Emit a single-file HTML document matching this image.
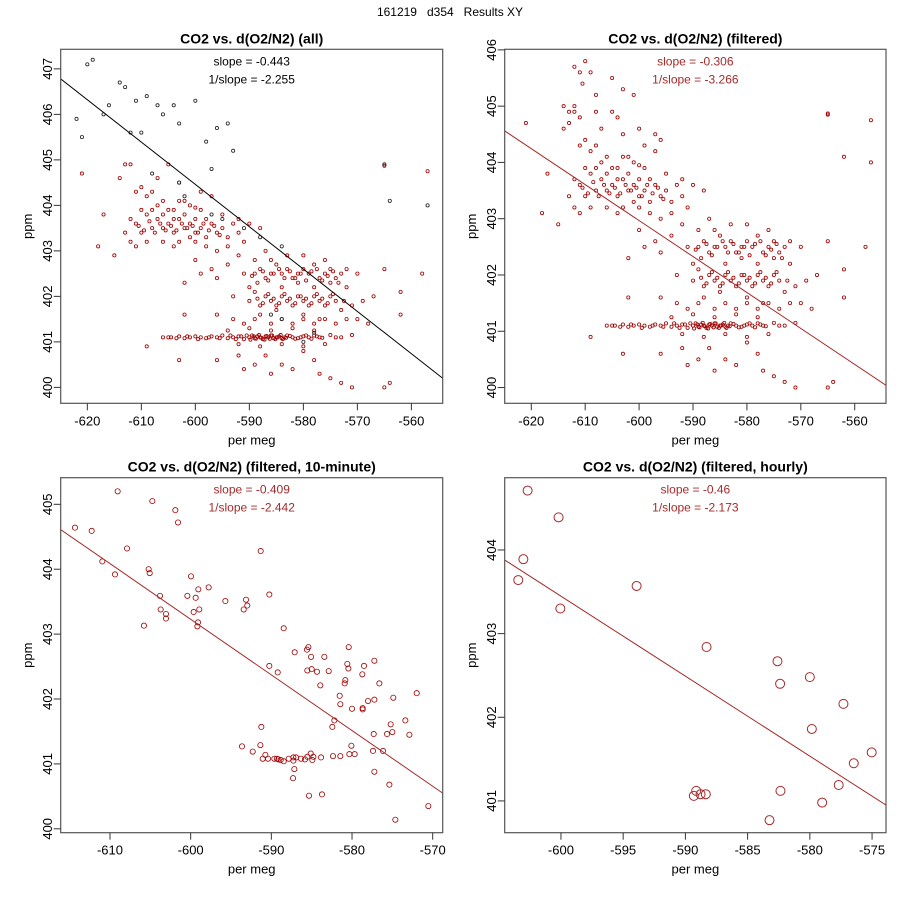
<!DOCTYPE html>
<html><head><meta charset="utf-8"><style>
html,body{margin:0;padding:0;background:#fff;}
svg{display:block;font-family:"Liberation Sans",sans-serif;}
</style></head><body>
<svg id="chart" width="900" height="900" viewBox="0 0 900 900" xmlns="http://www.w3.org/2000/svg">
<rect width="900" height="900" fill="#fff"/>
<text x="450" y="16" font-size="12" text-anchor="middle" fill="#000" style="white-space:pre" xml:space="preserve">161219   d354   Results XY</text>
</svg>
<script>
// ---- data ----
const redPts = [[-614,404.6],[-613,404.9],[-612,404.9],[-611,404.3],[-610,404.4],[-609,404.2],[-608,404.3],[-607,404.0],[-606,404.1],[-605,403.9],[-611,403.6],[-610,403.4],[-609,403.8],[-608,403.5],[-607,403.7],[-606,403.5],[-605,403.6],[-604,403.4],[-603,403.7],[-602,403.5],[-601,403.6],[-600,403.4],[-599,403.5],[-598,403.3],[-597,403.6],[-596,403.4],[-595,403.5],[-594,403.3],[-593,403.6],[-592,403.4],[-604,403.9],[-603,404.1],[-602,403.8],[-601,404.0],[-600,403.7],[-599,403.9],[-598,403.7],[-597,404.2],[-612,403.2],[-611,403.1],[-609,403.2],[-606,403.2],[-604,403.1],[-603,403.2],[-601,403.3],[-600,403.2],[-598,403.1],[-596,403.0],[-594,403.1],[-592,403.7],[-590,403.6],[-588,403.5],[-591,403.2],[-595,403.8],[-605,404.9],[-607,404.6],[-603,404.5],[-599,404.3],[-615,402.9],[-618,403.1],[-617,403.8],[-621,404.7],
[-600,402.8],[-597,402.6],[-594,402.7],[-592,402.9],[-589,402.8],[-587,403.0],[-591,402.5],[-596,402.4],[-599,402.5],[-602,402.3],[-590,402.2],[-593,402.0],
[-589,402.5],[-588,402.6],[-587,402.4],[-586,402.5],[-585,402.7],[-584,402.5],[-583,402.6],[-582,402.4],[-581,402.5],[-580,402.6],[-579,402.5],[-578,402.7],[-577,402.4],[-576,402.5],[-575,402.6],[-574,402.4],[-573,402.5],[-572,402.6],[-586,402.8],[-583,402.9],[-580,402.9],[-576,402.8],[-584,402.2],[-581,402.3],[-578,402.2],[-575,402.3],[-572,402.2],[-570,402.5],
[-590,401.9],[-589,402.1],[-588,401.8],[-587,402.0],[-586,401.9],[-585,401.8],[-584,402.0],[-583,401.9],[-582,401.8],[-581,402.0],[-580,401.9],[-579,401.8],[-578,402.0],[-577,401.9],[-576,401.8],[-575,402.0],[-574,401.9],[-573,401.7],[-571,401.8],[-569,401.9],[-567,402.0],[-562,402.1],[-588,401.6],[-585,401.7],[-580,401.6],[-577,401.5],
[-593,401.5],[-591,401.4],[-589,401.5],[-586,401.4],[-584,401.5],[-582,401.4],[-580,401.5],[-578,401.4],[-576,401.5],[-574,401.4],[-572,401.5],[-570,401.5],[-568,401.4],[-602,401.6],[-596,401.6],
[-606,401.1],[-605,401.1],[-603,401.12],[-602,401.08],[-601,401.1],[-600,401.12],[-599,401.1],[-598,401.08],[-597,401.12],[-596,401.1],[-595,401.14],[-594,401.08],[-593,401.1],[-592,401.12],[-591,401.06],[-590,401.1],[-589.5,401.14],[-589,401.08],[-588.5,401.12],[-588,401.1],[-587.5,401.06],[-587,401.12],[-586.5,401.1],[-586,401.14],[-585.5,401.08],[-585,401.1],[-584.5,401.12],[-584,401.08],[-583.5,401.1],[-583,401.14],[-582,401.1],[-581,401.08],[-580,401.12],[-579,401.1],[-578,401.14],[-577,401.1],[-575,401.15],[-573,401.1],[-571,401.15],[-594,401.25],[-590,401.3],[-586,401.25],[-582,401.3],[-578,401.25],[-592,400.95],[-588,400.9],[-584,400.95],[-580,400.9],[-576,400.95],
[-609,400.9],[-603,400.6],[-596,400.6],[-592,400.7],[-589,400.5],[-587,400.7],[-584,400.5],[-582,400.4],[-580,400.8],[-578,400.6],[-577,400.3],[-575,400.2],[-573,400.1],[-571,400.0],[-565,400.0],[-564,400.1],[-586,400.3],[-591,400.4],
[-565,402.6],[-558,402.5],[-562,401.6],[-565,404.87],[-557,404.75]];
const densePts = [[-610.5,403.55],[-609.5,403.45],[-608.5,403.65],[-607.5,403.4],[-606.5,403.6],[-605.5,403.45],[-604.5,403.55],[-603.5,403.45],[-602.5,403.6],[-601.5,403.5],[-600.5,403.55],[-599.5,403.4],[-598.5,403.6],[-597.5,403.45],[-596.5,403.55],[-595.5,403.35],[-608,403.9],[-606,403.8],[-604,403.7],[-602,404.1],[-600,403.95],[-610,403.9],[-612,403.7],[-613,403.4],
[-589.5,402.45],[-588.5,402.3],[-587.5,402.55],[-586.5,402.35],[-585.5,402.5],[-584.5,402.6],[-583.5,402.4],[-582.5,402.55],[-581.5,402.4],[-580.5,402.5],[-579.5,402.35],[-578.5,402.55],[-577.5,402.6],[-576.5,402.35],[-575.5,402.45],[-574.5,402.55],[-573.5,402.3],
[-588.5,401.95],[-587.5,401.85],[-586.5,402.05],[-585.5,401.95],[-584.5,401.85],[-583.5,402.05],[-582.5,401.95],[-581.5,401.85],[-580.5,402.0],[-579.5,401.95],[-578.5,401.85],[-577.5,402.05],[-576.5,401.95],[-575.5,401.85],[-574.5,402.05],[-572.5,401.9],
[-604.5,401.1],[-603.5,401.08],[-601.5,401.12],[-599.5,401.06],[-597.5,401.1],[-595.5,401.08],[-593.5,401.14],[-592.5,401.06],[-591.5,401.12],[-590.5,401.14],[-589.8,401.05],[-589.2,401.12],[-588.8,401.07],[-588.2,401.15],[-587.8,401.09],[-587.2,401.05],[-586.8,401.13],[-586.2,401.07],[-585.8,401.14],[-585.2,401.06],[-584.8,401.1],[-584.2,401.15],[-583.8,401.06],[-583.2,401.09],[-582.5,401.13],[-581.5,401.07],[-580.5,401.1],[-579.5,401.14],[-578.5,401.07],[-577.5,401.12],[-576.5,401.09],[-574,401.1]];
const blackPts = [[-622,405.9],[-621,405.5],[-620,407.1],[-619,407.2],[-616,406.2],[-617,406.0],[-614,406.7],[-613,406.6],[-611,406.3],[-609,406.4],[-607,406.2],[-606,406.0],[-604,406.2],[-603,405.8],[-610,405.6],[-612,405.6],[-608,404.7],[-603,404.5],[-597,404.8],[-596,405.7],[-594,405.8],[-593,405.2],[-602,404.2],[-597,403.8],[-595,403.7],[-591,403.5],[-588,403.3],[-584,403.1],[-600,406.3],[-598,405.4],[-565,404.9],[-564,404.1],[-557,404.0],[-586,401.6],[-584,401.5],[-580,401.0],[-578,401.2]];
const filtExtraPts = [[-612,405.7],[-611,405.6],[-610,405.8],[-609,405.6],[-610.5,405.4],[-608,405.2],[-605,405.5],[-603,405.3],[-601,405.2],[-613,404.7],[-608,404.9],[-604,404.8],[-600,404.6],[-596,404.4],[-597,404.5],[-612,405.0],[-614,405.0],[-611,404.8],[-565,404.85],[-562,404.1],[-557,404.0]];
const tenMinPts = [[-614.34,404.64],[-612.27,404.59],[-609.05,405.20],[-604.75,405.05],[-601.90,404.91],[-601.57,404.72],[-607.89,404.32],[-610.95,404.12],[-609.38,403.92],[-605.21,404.00],[-605.08,403.94],[-603.80,403.59],[-603.72,403.38],[-603.06,403.31],[-603.06,403.24],[-605.79,403.13],[-599.96,403.89],[-599.05,403.69],[-600.41,403.59],[-599.38,403.56],[-597.77,403.72],[-599.63,403.34],[-598.93,403.38],[-599.09,403.18],[-599.17,403.12],[-595.70,403.51],[-593.43,403.38],[-593.14,403.53],[-592.98,403.44],[-591.32,404.28],[-590.25,403.61],[-588.47,403.09],[-590.25,402.51],[-589.21,402.41],[-587.11,402.72],[-585.58,402.76],[-585.41,402.80],[-585.08,402.65],[-585.54,402.44],[-585.00,402.46],[-584.34,402.42],[-583.43,402.65],[-583.93,402.21],[-582.89,402.43],[-580.41,402.80],[-580.58,402.54],[-580.45,402.47],[-578.51,402.51],[-578.72,402.38],[-577.23,402.59],[-580.83,402.29],[-580.91,402.24],[-576.61,402.24],[-581.53,402.05],[-581.45,401.92],[-580.0,401.85],[-578.68,401.86],[-578.68,401.84],[-578.02,401.97],[-577.23,401.99],[-574.88,402.02],[-571.98,402.09],[-582.19,401.67],[-582.44,401.57],[-575.21,401.61],[-573.39,401.67],[-575.00,401.49],[-575.66,401.46],[-577.31,401.46],[-572.89,401.45],[-591.24,401.57],[-593.64,401.27],[-591.36,401.29],[-592.31,401.19],[-590.74,401.14],[-591.07,401.08],[-590.41,401.08],[-589.63,401.08],[-589.30,401.08],[-589.13,401.07],[-588.84,401.06],[-588.47,401.04],[-587.85,401.08],[-587.27,401.10],[-586.94,401.10],[-587.27,401.05],[-586.32,401.08],[-585.83,401.07],[-585.54,401.11],[-585.12,401.16],[-584.79,401.11],[-584.92,401.06],[-583.84,401.10],[-582.36,401.12],[-581.45,401.12],[-580.33,401.15],[-579.67,401.15],[-580.08,401.28],[-577.40,401.20],[-576.16,401.20],[-587.15,400.92],[-587.31,400.78],[-577.23,400.88],[-585.33,400.51],[-583.72,400.53],[-575.37,400.68],[-574.63,400.14],[-570.54,400.35]];
const hourlyPts = [[-602.68,404.71],[-600.19,404.39],[-603.02,403.89],[-603.43,403.64],[-600.05,403.30],[-593.92,403.57],[-588.30,402.84],[-582.60,402.67],[-582.39,402.40],[-580.0,402.48],[-577.30,402.16],[-579.84,401.86],[-575.03,401.58],[-576.47,401.45],[-577.68,401.19],[-582.36,401.12],[-579.01,400.98],[-583.24,400.77],[-589.13,401.12],[-589.32,401.06],[-588.78,401.08],[-588.36,401.08]];
// fit lines: [x1,y1,x2,y2] in data units
const fitAll = [-624.93,406.78,-554.2,400.2];
const fitFilt = [-624.93,404.56,-554.2,400.04];
const fitTen = [-616.11,404.61,-568.76,400.55];
const fitHour = [-604.52,403.88,-573.88,400.95];
const xTicksWide = [-620,-610,-600,-590,-580,-570,-560];
const xTicksTen = [-610,-600,-590,-580,-570];
const xTicksHour = [-600,-595,-590,-585,-580,-575];
const yTicksAll = [400,401,402,403,404,405,406,407];
const yTicksFilt = [400,401,402,403,404,405,406];
const yTicksTen = [400,401,402,403,404,405];
const yTicksHour = [401,402,403,404];
const titles = ["CO2 vs. d(O2/N2) (all)","CO2 vs. d(O2/N2) (filtered)","CO2 vs. d(O2/N2) (filtered, 10-minute)","CO2 vs. d(O2/N2) (filtered, hourly)"];
const slopeTexts = [["slope = -0.443","1/slope = -2.255"],["slope = -0.306","1/slope = -3.266"],["slope = -0.409","1/slope = -2.442"],["slope = -0.46","1/slope = -2.173"]];

const NS="http://www.w3.org/2000/svg";
const svg=document.getElementById('chart');
function mk(tag,attrs,parent){const e=document.createElementNS(NS,tag);for(const k in attrs)e.setAttribute(k,attrs[k]);(parent||svg).appendChild(e);return e;}
const RED="#a52a2a", PT="#a00000";

function panel(idx,box,xd,yd,xt,yt,series,fit,fitColor,textColor){
  const [L,T,R,B]=box;
  const g=mk('g',{});
  
  
  const sx=v=>L+(v-xd[0])/(xd[1]-xd[0])*(R-L);
  const sy=v=>B-(v-yd[0])/(yd[1]-yd[0])*(B-T);
  const cid='clip'+idx;
  const cp=mk('clipPath',{id:cid},g); mk('rect',{x:L,y:T,width:R-L,height:B-T},cp);
  const pg=mk('g',{'clip-path':'url(#'+cid+')'},g);
  
  
  series.forEach(s=>{s.pts.forEach(p=>{
    const c=mk('circle',{cx:sx(p[0]),cy:sy(p[1]),r:s.r,fill:'none',stroke:s.color,'stroke-width':s.w||0.8},pg);
    
    
  });});
  const ln=mk('line',{x1:sx(fit[0]),y1:sy(fit[1]),x2:sx(fit[2]),y2:sy(fit[3]),stroke:fitColor,'stroke-width':1},pg);
  
  
  const fr=mk('rect',{x:L,y:T,width:R-L,height:B-T,fill:'none',stroke:'#555','stroke-width':1.2},g);
  
  
  xt.forEach(v=>{const x=sx(v);
    mk('line',{x1:x,y1:B,x2:x,y2:B+7,stroke:'#333'},g);
    const t=mk('text',{x:x,y:B+22,'font-size':13,'text-anchor':'middle'},g);t.textContent=v;
    
    
  });
  yt.forEach(v=>{const y=sy(v);
    mk('line',{x1:L-7,y1:y,x2:L,y2:y,stroke:'#333'},g);
    const t=mk('text',{x:L-13,y:y,'font-size':13,'text-anchor':'middle',transform:'rotate(-90 '+(L-13)+' '+y+')','dominant-baseline':'central'},g);t.textContent=v;
    
    
  });
  const xl=mk('text',{x:(L+R)/2,y:B+41,'font-size':13,'text-anchor':'middle'},g);xl.textContent='per meg';
  
  
  const yl=mk('text',{x:L-33,y:(T+B)/2,'font-size':13,'text-anchor':'middle','dominant-baseline':'central',transform:'rotate(-90 '+(L-33)+' '+((T+B)/2)+')'},g);yl.textContent='ppm';
  
  
  const tt=mk('text',{x:(L+R)/2,y:T-6,'font-size':14,'font-weight':'bold','text-anchor':'middle'},g);tt.textContent=titles[idx];
  
  
  slopeTexts[idx].forEach((s,i)=>{const t=mk('text',{x:(L+R)/2,y:T+16+i*18,'font-size':12,'text-anchor':'middle',fill:textColor},g);t.textContent=s;
    
    
  });
}
panel(0,[60.7,49.3,442.7,403.3],[-624.93,-554.2],[399.65,407.43],xTicksWide,yTicksAll,
  [{pts:redPts,color:PT,r:1.6},{pts:densePts,color:PT,r:1.6},{pts:blackPts,color:'#222',r:1.6}],fitAll,'#000','#000');
panel(1,[504.7,49.3,886,403.3],[-624.93,-554.2],[399.72,406.01],xTicksWide,yTicksFilt,
  [{pts:redPts,color:PT,r:1.6},{pts:densePts,color:PT,r:1.6},{pts:filtExtraPts,color:PT,r:1.6}],fitFilt,RED,RED);
panel(2,[60.7,477.7,442.7,832.7],[-616.11,-568.76],[399.94,405.41],xTicksTen,yTicksTen,
  [{pts:tenMinPts,color:PT,r:2.6}],fitTen,RED,RED);
panel(3,[504.7,477.7,886,832.7],[-604.52,-573.88],[400.62,404.864],xTicksHour,yTicksHour,
  [{pts:hourlyPts,color:RED,r:4.5,w:1}],fitHour,RED,RED);
</script>
</body></html>
